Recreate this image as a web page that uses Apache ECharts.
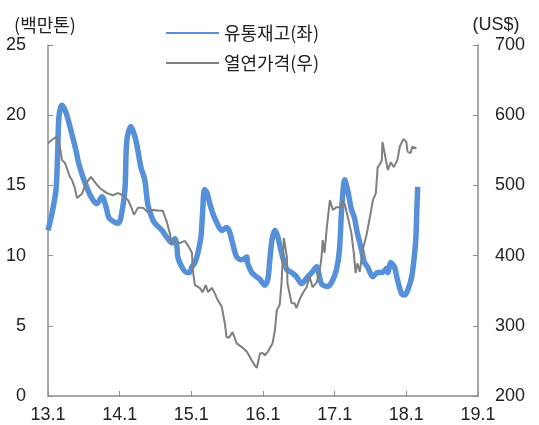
<!DOCTYPE html>
<html>
<head>
<meta charset="utf-8">
<script src="https://cdn.jsdelivr.net/npm/echarts@6/dist/echarts.min.js"></script>
<style>
  html, body { margin: 0; padding: 0; background: #fff; }
  #chart { width: 539px; height: 425px; }
</style>
</head>
<body>
<div id="chart"></div>
<script>
// x = months since 2013.1
var stockMonths = [0, 0.67, 1.34, 1.6, 1.84, 2.34, 3.0, 3.85, 4.68, 5.18, 6.02, 7.19, 8.2, 9.03, 9.7, 10.2, 11.04, 11.7, 12.2, 12.88, 13.2, 13.88, 14.72, 15.55, 16.2, 16.7, 17.4, 17.9, 19.07, 19.9, 20.74, 21.24, 21.6, 21.74, 22.4, 23.25, 23.75, 24.1, 24.6, 25.1, 25.6, 25.9, 26.2, 26.6, 27.1, 27.6, 28.3, 29.1, 29.9, 30.4, 30.9, 31.6, 32.4, 33.3, 33.4, 34.1, 34.6, 35.5, 36.3, 36.8, 37.1, 37.5, 38.0, 38.5, 39.1, 40.0, 40.8, 41.6, 42.5, 43.3, 44.2, 45.0, 45.2, 45.8, 46.7, 47.5, 48.3, 48.8, 49.2, 49.7, 50.2, 50.8, 51.3, 51.8, 52.5, 53.0, 53.5, 54.4, 55.2, 56.0, 56.7, 56.9, 57.4, 58.0, 58.5, 59.2, 59.7, 60.2, 60.9, 61.4, 61.6, 61.7, 61.9];
var stockValues = [11.8, 13.0, 14.7, 17.0, 19.9, 20.7, 20.2, 18.9, 17.5, 16.5, 15.4, 14.2, 13.7, 14.2, 13.5, 12.7, 12.4, 12.3, 12.7, 14.7, 18.2, 19.2, 18.2, 16.3, 15.4, 13.7, 12.7, 12.3, 11.8, 11.3, 10.9, 11.2, 10.6, 9.9, 9.2, 8.8, 8.8, 9.2, 9.5, 10.2, 11.3, 13.2, 14.7, 14.5, 13.7, 13.0, 12.3, 11.8, 12.0, 11.7, 10.9, 9.9, 9.7, 9.9, 9.5, 8.8, 8.6, 8.3, 7.9, 8.3, 9.5, 11.1, 11.8, 11.3, 10.2, 9.0, 8.8, 8.5, 8.0, 8.4, 8.8, 9.2, 9.0, 8.0, 7.8, 8.1, 9.0, 10.4, 13.5, 15.4, 14.6, 13.3, 12.7, 11.6, 10.4, 9.5, 9.2, 8.5, 8.8, 8.8, 9.1, 8.8, 9.5, 9.2, 8.3, 7.3, 7.2, 7.5, 8.5, 10.2, 11.3, 12.5, 14.9];

var priceMonths = [0, 0.67, 1.34, 1.67, 2.0, 2.34, 2.84, 3.0, 3.68, 4.0, 4.5, 4.85, 5.18, 5.69, 6.36, 7.19, 8.0, 8.7, 9.87, 10.87, 11.7, 12.54, 13.4, 13.9, 14.4, 15.05, 15.9, 16.7, 17.56, 18.7, 19.2, 19.9, 20.4, 20.7, 21.2, 22.1, 22.9, 23.4, 24.1, 24.25, 24.6, 25.4, 25.9, 26.4, 26.8, 27.4, 27.9, 28.4, 29.1, 29.6, 29.9, 30.3, 30.9, 31.6, 32.4, 33.3, 34.1, 34.6, 34.96, 35.5, 36.0, 36.3, 36.8, 37.1, 37.6, 38.0, 38.3, 38.8, 39.1, 39.5, 40.0, 40.1, 40.8, 41.3, 41.6, 42.1, 42.7, 43.3, 43.8, 44.3, 45.0, 45.5, 45.8, 46.0, 46.3, 46.7, 47.2, 47.7, 48.3, 49.2, 49.3, 49.7, 50.2, 50.8, 51.2, 51.5, 51.8, 52.2, 52.7, 53.4, 53.9, 54.4, 54.9, 55.2, 55.5, 55.9, 56.0, 56.5, 56.9, 57.4, 57.9, 58.5, 58.9, 59.5, 60.0, 60.2, 60.7, 61.0, 61.7];
var priceValues = [560, 565, 569, 565, 555, 536, 532, 532, 512, 508, 496, 482, 484, 488, 503, 512, 503, 496, 489, 486, 489, 486, 479, 470, 458, 468, 468, 462, 465, 464, 464, 448, 432, 418, 419, 418, 421, 415, 404, 379, 358, 354, 348, 358, 348, 354, 347, 337, 327, 304, 284, 283, 291, 275, 270, 263, 251, 244, 240, 261, 261, 258, 263, 261, 275, 294, 322, 330, 361, 425, 398, 360, 332, 332, 325, 337, 347, 355, 370, 355, 362, 379, 398, 422, 404, 441, 479, 465, 469, 469, 479, 473, 455, 432, 404, 375, 389, 377, 408, 432, 455, 479, 489, 526, 529, 536, 562, 540, 522, 533, 526, 536, 555, 566, 562, 548, 546, 555, 553];

var seriesNames = ['유통재고(좌)', '열연가격(우)'];
var leftUnit = '(백만톤)';
var rightUnit = '(US$)';

function zip(xs, ys) {
  return xs.map(function (x, i) { return [x, ys[i]]; });
}

var chart = echarts.init(document.getElementById('chart'), null, { renderer: 'canvas' });
var axisColor = '#8c8c8c';
var textColor = '#222';
var numFont = "'Liberation Sans', 'Noto Sans CJK KR', sans-serif";
var krFont = "'Noto Sans CJK KR', sans-serif";

var option = {
  animation: false,
  backgroundColor: '#fff',
  grid: { left: 48, right: 61, top: 45, bottom: 29 },
  legend: {
    orient: 'vertical',
    left: 160,
    top: 19,
    itemWidth: 53,
    itemHeight: 12,
    itemGap: 12,
    itemStyle: { opacity: 0 },
    textStyle: { fontFamily: krFont, fontSize: 18, color: textColor },
    data: seriesNames
  },
  xAxis: {
    type: 'value',
    min: 0,
    max: 72,
    interval: 12,
    axisLine: { lineStyle: { color: axisColor, width: 1.5 } },
    axisTick: { inside: true, length: 5, lineStyle: { color: axisColor } },
    splitLine: { show: false },
    axisLabel: {
      color: textColor, fontSize: 18, fontFamily: numFont, margin: 10,
      formatter: function (v) { return (13 + v / 12) + '.1'; }
    }
  },
  yAxis: [{
    type: 'value',
    min: 0,
    max: 25,
    interval: 5,
    name: leftUnit,
    nameGap: 11,
    nameTextStyle: { fontFamily: krFont, fontSize: 18, color: textColor, align: 'center', padding: [0, 0, 0, -6] },
    axisLine: { show: true, lineStyle: { color: axisColor, width: 1.5 } },
    axisTick: { show: true, inside: true, length: 5, lineStyle: { color: axisColor } },
    splitLine: { show: false },
    axisLabel: { color: textColor, fontSize: 18, fontFamily: numFont, margin: 22 }
  }, {
    type: 'value',
    min: 200,
    max: 700,
    interval: 100,
    name: rightUnit,
    nameGap: 11,
    nameTextStyle: { fontFamily: numFont, fontSize: 18, color: textColor, align: 'center', padding: [0, -36, 0, 0] },
    axisLine: { show: true, lineStyle: { color: axisColor, width: 1.5 } },
    axisTick: { show: true, inside: true, length: 5, lineStyle: { color: axisColor } },
    splitLine: { show: false },
    axisLabel: { color: textColor, fontSize: 18, fontFamily: numFont, margin: 17 }
  }],
  series: [{
    name: seriesNames[0],
    type: 'line',
    yAxisIndex: 0,
    data: zip(stockMonths, stockValues),
    showSymbol: false,
    symbol: 'none',
    smooth: 0.3,
    lineStyle: { color: '#5590d8', width: 5.5 },
    itemStyle: { color: '#5590d8' }
  }, {
    name: seriesNames[1],
    type: 'line',
    yAxisIndex: 1,
    data: zip(priceMonths, priceValues),
    showSymbol: false,
    symbol: 'none',
    lineStyle: { color: '#7f7f7f', width: 2 },
    itemStyle: { color: '#7f7f7f' }
  }]
};

chart.setOption(option);
</script>
</body>
</html>
